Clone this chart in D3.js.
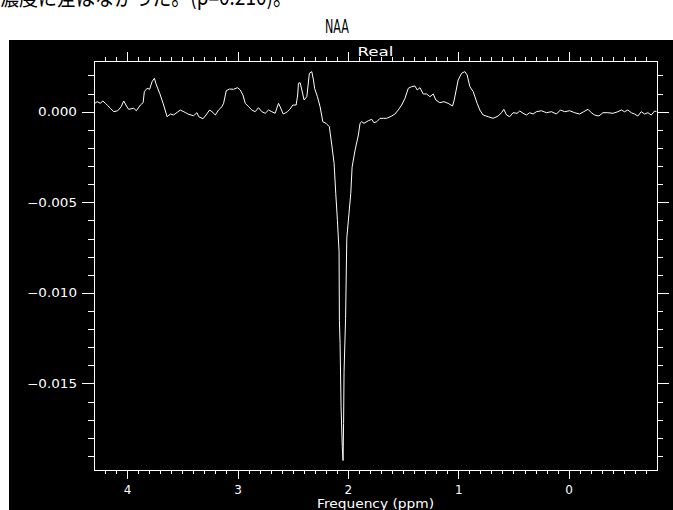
<!DOCTYPE html>
<html><head><meta charset="utf-8">
<script src="https://cdn.jsdelivr.net/npm/d3@7"></script>
<style>
html,body{margin:0;padding:0;background:#fff;}
svg{display:block;}
</style></head>
<body>
<svg id="chart" width="673" height="510"></svg>
<script>
// ---- data ----
const ppm = [4.293,4.271,4.241,4.221,4.196,4.175,4.151,4.121,4.085,4.054,4.031,4.006,3.986,3.940,3.916,3.880,3.855,3.844,3.819,3.796,3.774,3.753,3.735,3.705,3.674,3.638,3.608,3.579,3.518,3.473,3.443,3.398,3.367,3.352,3.313,3.292,3.253,3.231,3.201,3.172,3.141,3.126,3.102,3.072,3.036,3.000,2.975,2.951,2.930,2.900,2.870,2.840,2.810,2.779,2.749,2.719,2.689,2.659,2.629,2.614,2.586,2.568,2.548,2.523,2.499,2.469,2.455,2.448,2.433,2.417,2.397,2.372,2.349,2.327,2.312,2.302,2.276,2.252,2.227,2.198,2.168,2.146,2.125,2.110,2.095,2.080,2.077,2.071,2.062,2.051,2.044,2.039,2.035,2.021,2.010,1.990,1.974,1.962,1.935,1.905,1.890,1.875,1.854,1.815,1.784,1.764,1.739,1.709,1.679,1.649,1.603,1.574,1.544,1.513,1.483,1.453,1.423,1.393,1.372,1.347,1.318,1.287,1.257,1.227,1.203,1.167,1.130,1.092,1.052,1.037,1.001,0.970,0.941,0.920,0.895,0.865,0.829,0.805,0.775,0.730,0.685,0.639,0.609,0.588,0.563,0.534,0.504,0.468,0.443,0.413,0.383,0.353,0.323,0.292,0.247,0.202,0.156,0.111,0.075,0.036,-0.009,-0.054,-0.099,-0.136,-0.175,-0.205,-0.235,-0.274,-0.310,-0.355,-0.401,-0.446,-0.477,-0.506,-0.536,-0.567,-0.597,-0.627,-0.657,-0.687,-0.717,-0.748,-0.778,-0.796];
const realPart = [0.000464,0.000553,0.000464,0.000592,0.000464,0.000332,0.000188,0,0.000055,0.000276,0.000592,0.000315,0.000133,0.000188,0.000055,0.000370,0.000498,0.001106,0.001294,0.001238,0.001659,0.001847,0.001476,0.001017,0.000464,-0.000276,-0.000127,-0.000182,0.000094,-0.000044,-0.000144,-0.000221,-0.000055,-0.000276,-0.000387,-0.000238,0.000094,0,-0.000182,0.000094,0.000276,0.000464,0.001161,0.001255,0.001238,0.001327,0.001200,0.000923,0.000464,0.000276,0.000094,0,0.000221,0,-0.000088,0.000094,0,-0.000088,0.000464,0.000276,-0.000127,-0.000072,0,0.000149,0.000370,0.000370,0.000923,0.001570,0.001603,0.001200,0.000647,0.000829,0.002123,0.002212,0.001753,0.001294,0.000829,0.000276,-0.000553,-0.000641,-0.000829,-0.001841,-0.002853,-0.004512,-0.005988,-0.007741,-0.011517,-0.012789,-0.016272,-0.018484,-0.019258,-0.017212,-0.014392,-0.011406,-0.006983,-0.005601,-0.004512,-0.003058,-0.002118,-0.001288,-0.000641,-0.000553,-0.000641,-0.000498,-0.000420,-0.000608,-0.000553,-0.000365,-0.000365,-0.000365,-0.000238,-0.000127,0.000094,0.000370,0.000741,0.001294,0.001382,0.001421,0.001200,0.001327,0.000979,0.000979,0.000829,0.000979,0.000647,0.000498,0.000553,0.000464,0.000315,0.000647,0.001753,0.002123,0.002212,0.002029,0.001382,0.001106,0.000464,0.000094,-0.000182,-0.000276,-0.000365,-0.000238,-0.000055,0.000133,-0.000182,-0.000276,-0.000055,-0.000088,0.000039,-0.000088,-0.000182,-0.000055,-0.000127,0,0.000055,-0.000055,0,-0.000127,0.000094,0,0.000055,-0.000055,-0.000127,0,0.000133,-0.000055,-0.000182,-0.000238,-0.000055,-0.000055,-0.000088,0,0.000094,0,0.000094,-0.000055,-0.000127,-0.000238,0,-0.000127,-0.000055,-0.000182,0.000039,0];
const xMajorTicks = [4,3,2,1,0];
const xTickLabels = ["4","3","2","1","0"];
const yMajorTicks = [-0.015,-0.010,-0.005,0.000];
const yTickLabels = ["\u22120.015","\u22120.010","\u22120.005","0.000"];
const xMinorTicks = [4.2,4.1,3.9,3.8,3.7,3.6,3.5,3.4,3.3,3.2,3.1,2.9,2.8,2.7,2.6,2.5,2.4,2.3,2.2,2.1,1.9,1.8,1.7,1.6,1.5,1.4,1.3,1.2,1.1,0.9,0.8,0.7,0.6,0.5,0.4,0.3,0.2,0.1,-0.1,-0.2,-0.3,-0.4,-0.5,-0.6,-0.7];
const yMinorTicks = [-0.019,-0.018,-0.017,-0.016,-0.014,-0.013,-0.012,-0.011,-0.009,-0.008,-0.007,-0.006,-0.004,-0.003,-0.002,-0.001,0.001,0.002];
const xDomain = [4.3,-0.8];
const yDomain = [-0.01978,0.0028];
const titleText = "NAA";
const panelText = "Real";
const xAxisTitle = "Frequency (ppm)";
const captionText = "濃度に差はなかった。(p=0.210)。";

// ---- drawing ----
const svg = d3.select("#chart");
const L = 94, R = 657, T = 61, B = 470;
const x = d3.scaleLinear().domain(xDomain).range([L, R]);
const y = d3.scaleLinear().domain(yDomain).range([B, T]);
const font = "'DejaVu Sans', sans-serif";

svg.append("rect").attr("x",0).attr("y",0).attr("width",673).attr("height",510).attr("fill","#fff");
svg.append("text").attr("x",0).attr("y",5).attr("font-family","'Noto Sans CJK JP', sans-serif")
  .attr("font-size",22).attr("fill","#000").attr("textLength",292).attr("lengthAdjust","spacingAndGlyphs").text(captionText);
svg.append("text").attr("x",337).attr("y",33).attr("text-anchor","middle").attr("font-family","'DejaVu Sans Condensed','Liberation Sans Narrow', sans-serif")
  .attr("font-size",19).attr("fill","#000").attr("textLength",24).attr("lengthAdjust","spacingAndGlyphs").text(titleText);

svg.append("rect").attr("x",9).attr("y",40).attr("width",664).attr("height",470).attr("fill","#000");

const ax = svg.append("g").attr("shape-rendering","crispEdges");
function styleAxis(g){
  g.select(".domain").remove();
  g.selectAll("line").attr("stroke","#fff").attr("stroke-width",1);
  g.selectAll("text").attr("fill","#fff").attr("font-family",font).attr("font-size",12);
}
// left
ax.append("g").attr("transform",`translate(${L},0)`)
  .call(d3.axisLeft(y).tickValues(yMinorTicks).tickSize(6).tickFormat("")).call(styleAxis);
ax.append("g").attr("transform",`translate(${L},0)`)
  .call(d3.axisLeft(y).tickValues(yMajorTicks).tickSize(12).tickPadding(5).tickFormat((d,i)=>yTickLabels[i])).call(styleAxis)
  .selectAll("text").attr("textLength",(d,i)=>yTickLabels[i].length>5?50:39).attr("lengthAdjust","spacingAndGlyphs");
// right
ax.append("g").attr("transform",`translate(${R},0)`)
  .call(d3.axisRight(y).tickValues(yMinorTicks).tickSize(6).tickFormat("")).call(styleAxis);
ax.append("g").attr("transform",`translate(${R},0)`)
  .call(d3.axisRight(y).tickValues(yMajorTicks).tickSize(12).tickFormat("")).call(styleAxis);
// bottom
ax.append("g").attr("transform",`translate(0,${B})`)
  .call(d3.axisBottom(x).tickValues(xMinorTicks).tickSize(4).tickFormat("")).call(styleAxis);
ax.append("g").attr("transform",`translate(0,${B})`)
  .call(d3.axisBottom(x).tickValues(xMajorTicks).tickSize(9).tickPadding(6).tickFormat((d,i)=>xTickLabels[i])).call(styleAxis);
// top
ax.append("g").attr("transform",`translate(0,${T})`)
  .call(d3.axisTop(x).tickValues(xMinorTicks).tickSize(4).tickFormat("")).call(styleAxis);
ax.append("g").attr("transform",`translate(0,${T})`)
  .call(d3.axisTop(x).tickValues(xMajorTicks).tickSize(9).tickFormat("")).call(styleAxis);
// frame
ax.append("rect").attr("x",L).attr("y",T).attr("width",R-L).attr("height",B-T)
  .attr("fill","none").attr("stroke","#fff").attr("stroke-width",1);

// titles inside black area
svg.append("text").attr("x",(L+R)/2).attr("y",56).attr("text-anchor","middle").attr("fill","#fff")
  .attr("font-family",font).attr("font-size",13).attr("textLength",36).attr("lengthAdjust","spacingAndGlyphs").text(panelText);
svg.append("text").attr("x",(L+R)/2).attr("y",508).attr("text-anchor","middle").attr("fill","#fff")
  .attr("font-family",font).attr("font-size",12).attr("textLength",117).attr("lengthAdjust","spacingAndGlyphs").text(xAxisTitle);

// spectrum line
const pts = ppm.map((p,i)=>[p, realPart[i]]);
svg.append("path").datum(pts)
  .attr("fill","none").attr("stroke","#fff").attr("stroke-width",1).attr("stroke-linejoin","round")
  .attr("d", d3.line().x(d=>x(d[0])).y(d=>y(d[1])));
</script>
</body></html>
